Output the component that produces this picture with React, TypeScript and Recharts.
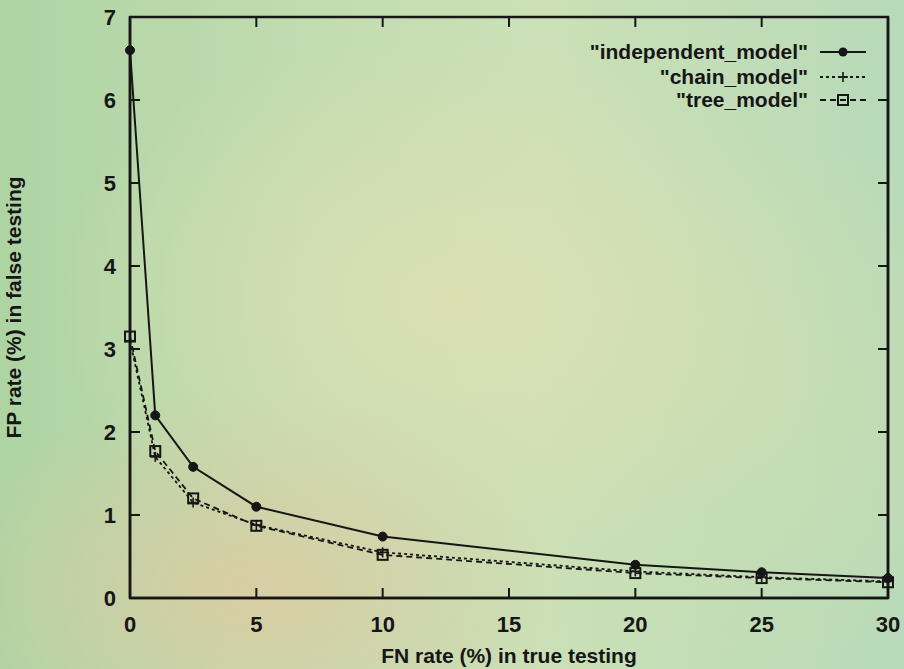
import React from "react";
import { LineChart, Line, XAxis, YAxis, Legend, ReferenceArea } from "recharts";

const fnRates = [0, 1, 2.5, 5, 10, 20, 25, 30];
const independentModel = [6.6, 2.2, 1.58, 1.1, 0.74, 0.4, 0.31, 0.24];
const chainModel = [3.1, 1.7, 1.15, 0.88, 0.55, 0.32, 0.25, 0.2];
const treeModel = [3.15, 1.77, 1.2, 0.87, 0.52, 0.3, 0.24, 0.19];
const xTicks = [0, 5, 10, 15, 20, 25, 30];
const yTicks = [0, 1, 2, 3, 4, 5, 6, 7];
const seriesNames = ['"independent_model"', '"chain_model"', '"tree_model"'];

const data = fnRates.map((x, i) => ({
  x,
  ind: independentModel[i],
  chain: chainModel[i],
  tree: treeModel[i],
}));

const INK = "#161616";
const FONT = "'Liberation Sans', Arial, Helvetica, sans-serif";
const MARGIN_TOP = 17;
const PLOT_TOP = MARGIN_TOP;

const BottomTick = (props: any) => {
  const { x, y, payload } = props;
  return (
    <g>
      <line x1={x} y1={y} x2={x} y2={y - 10} stroke={INK} strokeWidth={2} />
      <line x1={x} y1={PLOT_TOP} x2={x} y2={PLOT_TOP + 10} stroke={INK} strokeWidth={2} />
      <text x={x} y={y + 34} textAnchor="middle" fontSize={22} fontWeight="bold" fontFamily={FONT} fill={INK}>
        {payload.value}
      </text>
    </g>
  );
};
const LeftTick = (props: any) => {
  const { x, y, payload } = props;
  return (
    <g>
      <line x1={x} y1={y} x2={x + 10} y2={y} stroke={INK} strokeWidth={2} />
      <text x={x - 14} y={y + 8} textAnchor="end" fontSize={22} fontWeight="bold" fontFamily={FONT} fill={INK}>
        {payload.value}
      </text>
    </g>
  );
};
const EmptyTick = () => <g />;

const CircleDot = (props: any) => {
  const { cx, cy } = props;
  return <circle cx={cx} cy={cy} r={4.5} fill={INK} stroke={INK} />;
};
const PlusDot = (props: any) => {
  const { cx, cy } = props;
  return (
    <g stroke={INK} strokeWidth={1.6}>
      <line x1={cx - 5} y1={cy} x2={cx + 5} y2={cy} />
      <line x1={cx} y1={cy - 5} x2={cx} y2={cy + 5} />
    </g>
  );
};
const SquareDot = (props: any) => {
  const { cx, cy } = props;
  return <rect x={cx - 5} y={cy - 5} width={10} height={10} fill="none" stroke={INK} strokeWidth={2} />;
};

const LegendContent = () => {
  const rows = [
    { y: 17, dash: undefined, marker: "circle" },
    { y: 42, dash: "3 3", marker: "plus" },
    { y: 65, dash: "6 4", marker: "square" },
  ];
  return (
    <svg width={320} height={80} style={{ display: "block" }}>
      {rows.map((r, i) => (
        <g key={i}>
          <text x={248} y={r.y + 7} textAnchor="end" fontSize={21} fontWeight="bold" fontFamily={FONT} fill={INK}>
            {seriesNames[i]}
          </text>
          <line x1={260} y1={r.y} x2={306} y2={r.y} stroke={INK} strokeWidth={2} strokeDasharray={r.dash} />
          {r.marker === "circle" && <circle cx={283} cy={r.y} r={4.5} fill={INK} />}
          {r.marker === "plus" && (
            <g stroke={INK} strokeWidth={1.6}>
              <line x1={278} y1={r.y} x2={288} y2={r.y} />
              <line x1={283} y1={r.y - 5} x2={283} y2={r.y + 5} />
            </g>
          )}
          {r.marker === "square" && (
            <rect x={278} y={r.y - 5} width={10} height={10} fill="none" stroke={INK} strokeWidth={2} />
          )}
        </g>
      ))}
    </svg>
  );
};

export default function App() {
  return (
    <div
      style={{
        position: "absolute",
        left: 0,
        top: 0,
        width: 904,
        height: 669,
        background:
          "radial-gradient(ellipse 35% 30% at 28% 88%, rgba(226,200,160,0.75), rgba(226,200,160,0) 100%), radial-gradient(ellipse 45% 40% at 50% 45%, rgba(222,224,178,0.85), rgba(222,224,178,0) 100%), radial-gradient(ellipse 30% 40% at 85% 60%, rgba(205,222,175,0.6), rgba(205,222,175,0) 100%), linear-gradient(90deg, #aed4a4 0%, #c2dcb0 35%, #cbe0b6 60%, #b8dab8 100%)",
      }}
    >
      <LineChart
        width={904}
        height={669}
        data={data}
        margin={{ top: MARGIN_TOP, right: 15, bottom: 0, left: 0 }}
      >
        <XAxis
          dataKey="x"
          type="number"
          domain={[0, 30]}
          ticks={xTicks}
          height={71}
          tickSize={0}
          tickMargin={0}
          tickLine={false}
          axisLine={{ stroke: INK, strokeWidth: 2.5 }}
          tick={<BottomTick />}
          interval={0}
          label={{
            value: "FN rate (%) in true testing",
            position: "insideBottom",
            offset: 6,
            fontSize: 21,
            fontWeight: "bold",
            fontFamily: FONT,
            fill: INK,
          }}
        />
        <YAxis
          type="number"
          domain={[0, 7]}
          ticks={yTicks}
          width={130}
          tickSize={0}
          tickMargin={0}
          tickLine={false}
          axisLine={{ stroke: INK, strokeWidth: 2.5 }}
          tick={<LeftTick />}
          interval={0}
          label={{
            value: "FP rate (%) in false testing",
            angle: -90,
            position: "insideLeft",
            offset: 14,
            style: { textAnchor: "middle" },
            fontSize: 21,
            fontWeight: "bold",
            fontFamily: FONT,
            fill: INK,
          }}
        />
        <YAxis
          yAxisId="right"
          orientation="right"
          type="number"
          domain={[0, 7]}
          ticks={yTicks}
          width={1}
          tickSize={-10}
          tickMargin={0}
          tickLine={{ stroke: INK, strokeWidth: 2 }}
          axisLine={{ stroke: INK, strokeWidth: 2.5 }}
          tick={<EmptyTick />}
          interval={0}
        />
        <ReferenceArea
          x1={0}
          x2={30}
          y1={0}
          y2={7}
          fill="none"
          fillOpacity={0}
          stroke={INK}
          strokeWidth={2.5}
          ifOverflow="visible"
        />
        <Legend
          layout="horizontal"
          verticalAlign="middle"
          align="center"
          wrapperStyle={{ left: 560, top: 35, width: 320, height: 80 }}
          content={<LegendContent />}
        />
        <Line
          type="linear"
          dataKey="tree"
          yAxisId="right"
          stroke={INK}
          strokeWidth={1.8}
          strokeDasharray="6 4"
          dot={<SquareDot />}
          isAnimationActive={false}
        />
        <Line
          type="linear"
          dataKey="chain"
          stroke={INK}
          strokeWidth={1.8}
          strokeDasharray="3 3"
          dot={<PlusDot />}
          isAnimationActive={false}
        />
        <Line
          type="linear"
          dataKey="ind"
          stroke={INK}
          strokeWidth={2}
          dot={<CircleDot />}
          isAnimationActive={false}
        />
      </LineChart>
    </div>
  );
}
